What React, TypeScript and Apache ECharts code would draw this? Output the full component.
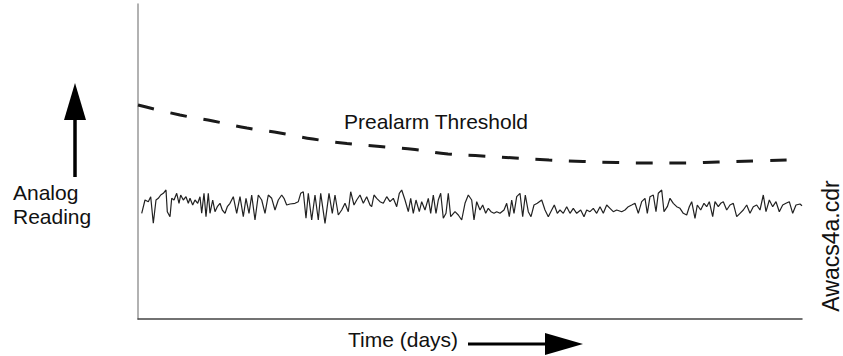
import React, { useEffect, useRef } from "react";
import * as echarts from "echarts";

// Threshold curve: [time, reading]
const thresholdData: [number, number][] = [
  [0, 214], [42, 204], [75, 198], [109, 191], [142, 186], [175, 180], [209, 175.5],
  [242, 172.5], [277, 169.5], [310, 165], [344, 163], [377, 161], [411, 159],
  [445, 157.5], [479, 156.5], [512, 156], [547, 156], [580, 157], [615, 158], [650, 159],
];

// Analog reading (noisy signal): [time, reading]
const readingData: [number, number][] = [
  [3.7, 105.7], [7, 119], [10.3, 117.3], [12.7, 122.3], [15.3, 95.7], [18, 119], [20.3, 120.7],
  [22.7, 124], [25.3, 125.7], [28, 129], [29.3, 107.3], [32, 102.3], [33.7, 120.7], [36, 119],
  [38.7, 125.7], [41, 115.7], [42.7, 124], [45.3, 119], [48, 122.3], [50.3, 115.7], [52, 120.7],
  [54.7, 114], [57, 119], [59.7, 115.7], [62, 122.3], [63.7, 105.7], [66, 125.7], [68, 102.3],
  [70.3, 125.7], [72, 105.7], [74.7, 119], [77, 107.3], [79.3, 112.3], [82, 115.7], [84.3, 109],
  [87, 105.7], [89.3, 112.3], [92, 115.7], [95.3, 122.3], [98.7, 105.7], [102, 122.3],
  [105.3, 102.3], [108, 120.7], [111, 105.7], [113.7, 124], [117, 99], [120.3, 124],
  [123.7, 119], [127, 105.7], [130.3, 124], [133.7, 120.7], [137, 109], [140.3, 119],
  [143.7, 124], [146, 120.7], [148.7, 114], [152, 115], [157, 115.7], [160.3, 117.3],
  [162.7, 125.7], [165.3, 127.3], [168, 100.7], [170.3, 125.7], [173.7, 99], [177, 124],
  [180.3, 99], [182.7, 125.7], [187, 95.7], [191, 125.7], [194.3, 105.7], [197, 124],
  [200.3, 104], [203.7, 109], [207, 115.7], [210.3, 107.3], [212.7, 127.3], [216, 114],
  [218.7, 119], [222, 124], [225.3, 115.7], [228.7, 122.3], [232, 114],
  [233.7, 112.3], [236, 124], [238.7, 120.7], [242, 117.3], [245.3, 115.7], [248.7, 122.3],
  [252, 117.3], [255.3, 120.7], [258.7, 112.3], [261.3, 125.7], [263.7, 129], [267, 119],
  [270.3, 107.3], [272.7, 120.7], [275.3, 105.7], [278, 119], [281.3, 107.3], [283.7, 117.3],
  [287, 109], [290.3, 120.7], [292.7, 105.7], [295.3, 124], [298, 105.7], [300.3, 119],
  [302.7, 125.7], [305.3, 100.7], [308, 105.7], [310.3, 125.7], [312.7, 102.3], [317, 107.3],
  [320.3, 104], [323.7, 99], [327, 115.7], [330.3, 124], [333.7, 119], [336, 99],
  [338.7, 117.3], [342, 109], [344.7, 114], [347.7, 105.7], [350.3, 110.7], [353, 107.3],
  [356, 105.7], [358.7, 107.3], [362, 105.7], [366, 109], [368.7, 115.7], [371.3, 102.3],
  [373.7, 119], [376, 105.7], [378.7, 122.3], [382, 125.7], [384.7, 102.3], [387.3, 124],
  [390.3, 107.3], [393, 102.3], [396, 114], [399.3, 115.7], [403.7, 119], [407, 109],
  [410.3, 102.3], [413.7, 109], [416.3, 114], [419.3, 105.7], [422, 109], [425.3, 105.7],
  [428.7, 112.3], [432, 105.7], [435.3, 110.7], [438.7, 105.7], [442.7, 109], [446, 102.3],
  [448.7, 109], [452, 107.3], [455.3, 110.7], [458.7, 105.7],
  [462, 112.3], [465.3, 105.7], [468.7, 114], [472, 110.7], [475.3, 107.3], [478.7, 109],
  [483.7, 107.3], [487, 109], [490.3, 112.3], [493.7, 114], [497, 115.7], [500.3, 105.7],
  [503.7, 117.3], [507, 120.7], [509.3, 105.7], [512, 122.3], [515.3, 124], [518, 107.3],
  [520.3, 125.7], [523.7, 129], [526, 107.3], [529.3, 112.3], [532, 120.7], [535.3, 115.7],
  [538.7, 112.3], [542, 110.7], [545.3, 105.7], [548.7, 104], [551.3, 112.3], [553.7, 117.3],
  [557, 100.7], [559.3, 114], [562.7, 109], [566, 115.7], [568.7, 112.3], [571.3, 117.3],
  [574.7, 102.3], [577, 117.3], [580.3, 112.3], [582.7, 115.7], [585.3, 117.3], [588.7, 109],
  [592, 114], [595.3, 115.7], [598.7, 102.3], [602, 105.7], [605.3, 109], [608.7, 114],
  [612, 105.7], [615.3, 112.3], [618.7, 114], [622, 109], [625.3, 124], [628, 107.3],
  [631.3, 119], [634.7, 112.3], [638, 117.3], [641.3, 107.3], [644.7, 114], [648, 115.7],
  [651.3, 117.3], [654.7, 105.7], [658, 114], [662, 115], [664, 113.3],
];

const FONT = "'Liberation Sans', Arial, Helvetica, sans-serif";

export default function App() {
  const ref = useRef<HTMLDivElement>(null);
  useEffect(() => {
    if (!ref.current) return;
    const chart = echarts.init(ref.current, undefined, { renderer: "svg" });
    chart.setOption({
      animation: false,
      backgroundColor: "#ffffff",
      grid: { left: 138, right: 41, top: 4, bottom: 37, containLabel: false },
      xAxis: {
        type: "value",
        min: 0,
        max: 664,
        axisLine: { show: true, onZero: false, lineStyle: { color: "#444", width: 1.5 } },
        axisTick: { show: false },
        axisLabel: { show: false },
        splitLine: { show: false },
      },
      yAxis: {
        type: "value",
        min: 0,
        max: 315,
        axisLine: { show: true, onZero: false, lineStyle: { color: "#999", width: 1.5 } },
        axisTick: { show: false },
        axisLabel: { show: false },
        splitLine: { show: false },
      },
      series: [
        {
          type: "line",
          name: "Prealarm Threshold",
          data: thresholdData,
          smooth: true,
          showSymbol: false,
          lineStyle: { color: "#1a1a1a", width: 3, type: [16.5, 17] },
          silent: true,
        },
        {
          type: "line",
          name: "Analog Reading",
          data: readingData,
          showSymbol: false,
          lineStyle: { color: "#222", width: 1.2 },
          silent: true,
        },
      ],
      graphic: [
        { type: "line", shape: { x1: 75, y1: 177, x2: 75, y2: 115 }, style: { stroke: "#000", lineWidth: 3.5 } },
        { type: "polygon", shape: { points: [[64, 120], [86, 120], [75, 83]] }, style: { fill: "#000" } },
        { type: "line", shape: { x1: 468, y1: 344, x2: 550, y2: 344 }, style: { stroke: "#000", lineWidth: 3 } },
        { type: "polygon", shape: { points: [[545, 333], [545, 355], [583, 344]] }, style: { fill: "#000" } },
        { type: "text", x: 13, y: 192.5, style: { text: "Analog", font: `21px ${FONT}`, fill: "#111", textAlign: "left", textVerticalAlign: "middle" } },
        { type: "text", x: 13, y: 216.5, style: { text: "Reading", font: `21px ${FONT}`, fill: "#111", textAlign: "left", textVerticalAlign: "middle" } },
        { type: "text", x: 344, y: 121.5, style: { text: "Prealarm Threshold", font: `21px ${FONT}`, fill: "#111", textAlign: "left", textVerticalAlign: "middle" } },
        { type: "text", x: 348, y: 339.5, style: { text: "Time (days)", font: `21px ${FONT}`, fill: "#111", textAlign: "left", textVerticalAlign: "middle" } },
        { type: "text", x: 831, y: 246, rotation: Math.PI / 2, style: { text: "Awacs4a.cdr", font: `23px ${FONT}`, fill: "#111", textAlign: "center", textVerticalAlign: "middle" } },
      ],
    });
    return () => chart.dispose();
  }, []);
  return <div ref={ref} style={{ width: 843, height: 356, position: "absolute", left: 0, top: 0 }} />;
}
